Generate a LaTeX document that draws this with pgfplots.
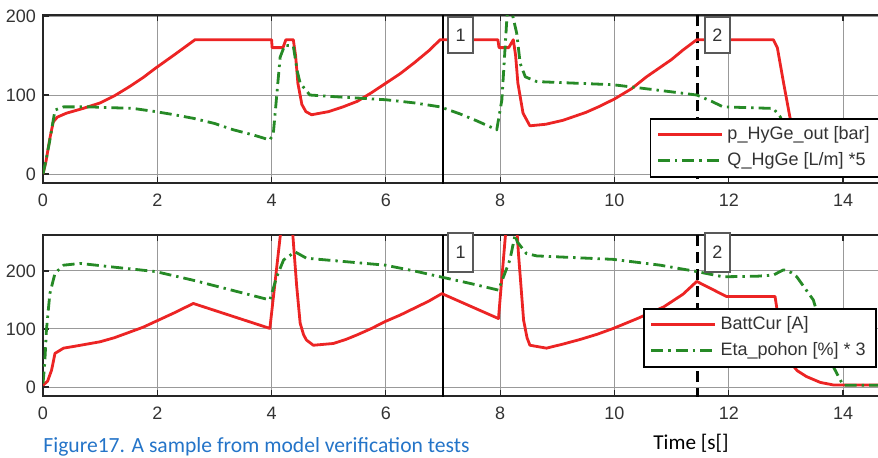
\documentclass[border=0pt]{standalone}
\usepackage{fontspec}
\setmainfont{Liberation Sans}
\newfontfamily\carlito{Carlito}
\usepackage{pgfplots}
\pgfplotsset{compat=1.18}

\definecolor{lred}{RGB}{236,36,36}
\definecolor{lgreen}{RGB}{38,138,38}
\definecolor{capblue}{RGB}{36,116,200}

\tikzset{
  numbox/.style={draw=black!65, line width=0.8pt, fill=white, inner sep=0pt,
    minimum width=12.5pt, font=\fontsize{9}{10}\selectfont, text=black!80},
}
\pgfplotsset{
  verif/.style={
    scale only axis, width=428.6pt, xmin=0, xmax=15,
    xtick={0,2,...,14}, ytick={0,100,200},
    grid=major, grid style={black!40, line width=0.5pt},
    axis line style={black!85, line width=1pt},
    tick style={black!85, line width=0.6pt}, major tick length=3pt,
    tick label style={font=\fontsize{9}{10}\selectfont, text=black!80},
    xticklabel style={yshift=-2pt},
    /pgf/number format/assume math mode=true,
    clip mode=individual,
    legend cell align=left,
    legend image code/.code={\draw[##1] (0pt,0pt) -- (32pt,0pt);},
    legend style={anchor=north west, draw=black, line width=0.8pt, fill=white,
      font=\fontsize{9}{10}\selectfont, text=black!80,
      inner xsep=3pt, inner ysep=2pt, row sep=1pt},
  },
  redline/.style={color=lred, line width=1.4pt, line join=round},
  greenline/.style={color=lgreen, line width=1.4pt, line join=round,
    dash pattern=on 6pt off 2.5pt on 1.2pt off 2.5pt},
  marker/.style={black, line width=1.2pt, forget plot},
}

\begin{document}
\begin{tikzpicture}
\path[use as bounding box] (0,0) rectangle (439pt,228.5pt);

% upper panel: pressure and flow
\begin{axis}[verif, at={(21.5pt,137pt)}, anchor=south west, height=84pt,
  ymin=-11.4, ymax=201.3, legend style={at={(0.708,0.387)}}]
\addplot[marker] coordinates {(7,-50) (7,300)};
\addplot[marker, dash pattern=on 5.5pt off 3pt] coordinates {(11.45,-50) (11.45,300)};
\addplot[redline] coordinates {
  (0,0) (0.05,15) (0.12,45) (0.18,66) (0.25,72) (0.41,77) (0.7,83) (1.0,90)
  (1.25,99) (1.5,110) (1.75,122) (1.97,134) (2.3,151) (2.66,170) (4.0,170)
  (4.01,160) (4.2,160) (4.25,170) (4.38,170) (4.42,150) (4.46,115) (4.53,88)
  (4.6,79) (4.7,75) (5.0,79) (5.25,85) (5.5,92) (5.75,103) (6.0,115)
  (6.25,127) (6.5,141) (6.75,156) (6.95,170) (7.96,170) (7.98,160) (8.15,160)
  (8.23,170) (8.27,150) (8.31,115) (8.4,77) (8.52,61) (8.8,63) (9.1,68)
  (9.5,78) (9.75,86) (10.0,95) (10.3,108) (10.56,123) (10.8,135) (11.0,145)
  (11.2,157) (11.44,170) (12.78,170) (12.85,160) (12.96,115) (13.07,72)
  (13.2,40) (13.4,15) (13.7,5) (14.0,3) (15,3)
};
\addlegendentry{p\_HyGe\_out [bar]\hspace{15pt}}
\addplot[greenline] coordinates {
  (0,0) (0.06,20) (0.12,43) (0.21,81) (0.36,85) (0.8,85) (1.58,83) (1.97,79)
  (2.3,75) (2.63,70.5) (3.0,64) (3.33,56) (3.7,49) (3.97,43) (4.03,51)
  (4.15,148) (4.23,163) (4.38,162) (4.45,130) (4.5,115) (4.67,100) (5.08,98)
  (6.0,94) (6.5,90) (6.95,85) (7.3,76) (7.6,67) (7.94,56) (8.03,94) (8.12,200)
  (8.18,215) (8.22,200) (8.29,178) (8.35,140) (8.44,123) (8.64,117) (9.98,113)
  (11.0,104) (11.44,100) (11.7,92) (11.9,85) (12.78,83) (12.9,72.5) (13.1,40)
  (13.4,10) (14,2) (15,2)
};
\addlegendentry{Q\_HgGe [L/m] *5}
\node[numbox, minimum height=18pt] at (axis cs:7.31,176) {1};
\node[numbox, minimum height=18pt] at (axis cs:11.8,176) {2};
\end{axis}

% lower panel: battery current and efficiency
\begin{axis}[verif, at={(21.5pt,30.5pt)}, anchor=south west, height=80.5pt,
  ymin=-15.5, ymax=262, legend style={at={(0.700,0.547)}}]
\addplot[marker] coordinates {(7,-50) (7,300)};
\addplot[marker, dash pattern=on 5.5pt off 3pt] coordinates {(11.45,-50) (11.45,300)};
\addplot[redline] coordinates {
  (0,3) (0.08,10) (0.15,29) (0.21,58) (0.36,67) (0.6,71) (1.0,78) (1.25,85)
  (1.5,94) (1.75,103) (1.97,113) (2.3,128) (2.63,144) (3.97,101) (4.15,259)
  (4.2,290) (4.35,290) (4.44,173) (4.5,110) (4.56,90) (4.61,81) (4.73,72)
  (5.08,75) (5.3,82) (5.5,90) (5.75,101) (5.99,113) (6.25,124) (6.5,136)
  (6.75,148) (6.98,161) (7.97,118) (8.09,259) (8.15,290) (8.28,290) (8.32,230)
  (8.41,115) (8.47,85) (8.52,72) (8.81,67) (9.1,74) (9.4,82) (9.7,91)
  (9.98,101) (10.4,118) (10.86,138) (11.2,160) (11.44,182) (11.96,156)
  (12.81,156) (12.85,130) (12.95,80) (13.07,43) (13.2,28) (13.36,18)
  (13.6,8) (13.83,3.5) (15,3.5)
};
\addlegendentry{BattCur [A]\hspace{15pt}}
\addplot[greenline] coordinates {
  (0,6) (0.03,40) (0.06,98) (0.12,161) (0.21,196) (0.36,210) (0.65,213)
  (1.3,206) (1.97,199) (2.63,184) (3.3,167) (3.97,150) (4.09,190) (4.21,219)
  (4.41,233) (4.61,222) (5.3,216) (5.99,210) (6.5,200) (6.95,190) (7.5,178)
  (7.97,167) (8.17,219) (8.26,262) (8.3,250) (8.46,230) (8.64,226) (9.98,220)
  (10.8,210) (11.44,199) (11.9,190) (12.5,191) (12.78,193) (12.96,202)
  (13.1,197) (13.19,190) (13.48,150) (13.6,110) (13.83,35) (14.0,3) (15,3)
};
\addlegendentry{Eta\_pohon [\%] * 3}
\node[numbox, minimum height=19.5pt] at (axis cs:7.31,232) {1};
\node[numbox, minimum height=19.5pt] at (axis cs:11.8,232) {2};
\end{axis}

\node[anchor=base west, inner sep=0pt, text=capblue, font=\carlito\fontsize{10.8}{12}\selectfont]
  at (21.5pt,2.5pt) {Figure17. A sample from model verification tests};
\node[anchor=base west, inner sep=0pt, font=\carlito\fontsize{10.6}{12}\selectfont]
  at (326.5pt,4pt) {Time [s[]};
\end{tikzpicture}
\end{document}
